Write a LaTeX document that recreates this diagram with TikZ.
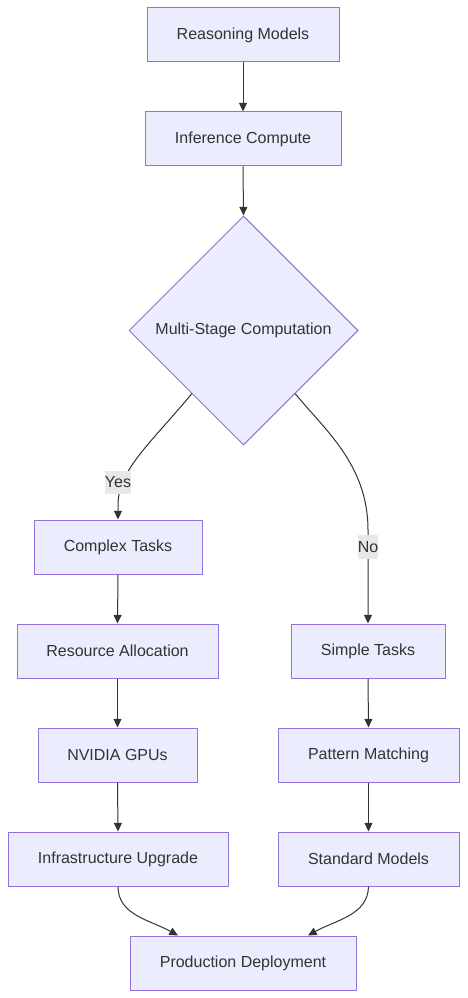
\documentclass[tikz,border=0pt]{standalone}
\usepackage{fontspec}
\setmainfont{Liberation Sans}
\usetikzlibrary{shapes.geometric,arrows.meta,calc}
\definecolor{nodefill}{HTML}{ECECFF}
\definecolor{nodeline}{HTML}{9370DB}
\definecolor{txt}{HTML}{333333}
\definecolor{lblbg}{HTML}{E8E8E8}
\tikzset{
  box/.style={draw=nodeline, fill=nodefill, line width=0.75pt, text=txt, inner sep=0pt, font=\fontsize{12}{14}\selectfont},
  dia/.style={draw=nodeline, fill=nodefill, line width=0.75pt, text=txt, shape=diamond, aspect=1, inner sep=0pt,
     minimum width=171.75pt, minimum height=171.75pt, font=\fontsize{12}{14}\selectfont},
  conn/.style={draw=txt, line width=0.75pt, -{Triangle[length=6.5pt,width=6pt]}},
  lbl/.style={fill=lblbg, text=txt, inner sep=0pt, font=\fontsize{12}{14}\selectfont}
}
\begin{document}
\begin{tikzpicture}[x=0.75pt,y=-0.75pt]
\useasboundingbox (0,0) rectangle (467,998);
\node[box, minimum width=144pt, minimum height=40.5pt] (rm) at (243,35) {Reasoning Models};
\node[box, minimum width=147pt, minimum height=40.5pt] (ic) at (243,139) {Inference Compute};
\node[dia] (d) at (243.5,330.5) {Multi-Stage Computation};
\node[box, minimum width=126pt, minimum height=40.5pt] (ct) at (118,547) {Complex Tasks};
\node[box, minimum width=150.75pt, minimum height=40.5pt] (ra) at (117.5,651) {Resource Allocation};
\node[box, minimum width=119.25pt, minimum height=40.5pt] (ng) at (117.5,755) {NVIDIA GPUs};
\node[box, minimum width=165pt, minimum height=40.5pt] (iu) at (118,859) {Infrastructure Upgrade};
\node[box, minimum width=115.5pt, minimum height=40.5pt] (st) at (368,651) {Simple Tasks};
\node[box, minimum width=135.75pt, minimum height=40.5pt] (pm) at (368.5,755) {Pattern Matching};
\node[box, minimum width=135.75pt, minimum height=40.5pt] (sm) at (368.5,859) {Standard Models};
\node[box, minimum width=169.5pt, minimum height=40.5pt] (pd) at (243,963) {Production Deployment};

\coordinate (dl) at ($(d.west)!0.55!(d.south)$);
\coordinate (dr) at ($(d.east)!0.55!(d.south)$);

\draw[conn] (rm.south) -- (ic.north);
\draw[conn] (ic.south) -- (d.north);
\draw[conn] (dl) .. controls (150,444) and (118,470) .. (118,505) -- (ct.north);
\draw[conn] (dr) .. controls (325,430) and (368,465) .. (368,530) -- (st.north);
\draw[conn] (ct.south) -- (ra.north);
\draw[conn] (ra.south) -- (ng.north);
\draw[conn] (ng.south) -- (iu.north);
\draw[conn] (st.south) -- (pm.north);
\draw[conn] (pm.south) -- (sm.north);
\draw[conn] (iu.south) .. controls (118,915) and (150,920) .. ($(pd.north)+(-65,0)$);
\draw[conn] (sm.south) .. controls (368,915) and (336,920) .. ($(pd.north)+(65,0)$);

\node[lbl, minimum width=19.5pt, minimum height=17.25pt] (yes) at (118,482) {Yes};
\node[lbl, minimum width=15pt, minimum height=18pt] (no) at (368,547) {No};
\end{tikzpicture}
\end{document}
